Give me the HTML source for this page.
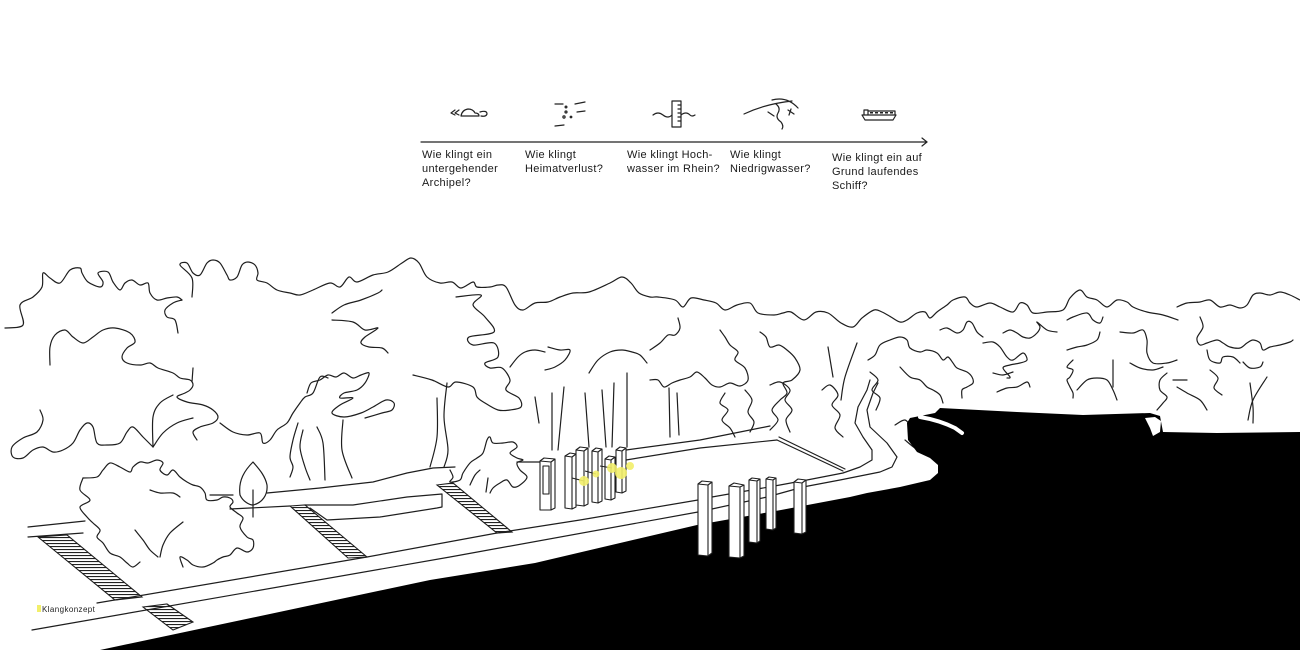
<!DOCTYPE html>
<html><head><meta charset="utf-8">
<style>
html,body{margin:0;padding:0;background:#fff;width:1300px;height:650px;overflow:hidden}
svg{display:block}
.t{font-family:"Liberation Sans",sans-serif;font-size:11px;fill:#1a1a1a;letter-spacing:0.35px}
.k{font-family:"Liberation Sans",sans-serif;font-size:8px;fill:#222;letter-spacing:0.4px}
</style></head>
<body>
<svg width="1300" height="650" viewBox="0 0 1300 650" xmlns="http://www.w3.org/2000/svg">
<defs>
<pattern id="hp" width="8" height="3" patternUnits="userSpaceOnUse"><rect width="8" height="1.1" fill="#222"/></pattern>
</defs>

<!-- timeline -->
<g fill="none" stroke="#222" stroke-width="1.2" stroke-linecap="round" stroke-linejoin="round">
<line x1="421" y1="142" x2="927" y2="142"/>
<path d="M922,138 L927,142 L922,146"/>
<path d="M455,110 L451,113 L455,115 M459,110 L455,113 L459,115"/>
<path d="M461,116 Q462,110 468,109 Q473,109 475,113 Q479,113 479,116 Z"/>
<path d="M480,112 Q487,110 487,114 Q486,117 481,116"/>
<path d="M555,104 L563,104 M575,104 L585,102 M577,112 L585,111 M555,126 L564,125"/>
<circle cx="566" cy="107" r="0.9"/><circle cx="566" cy="112" r="1"/><circle cx="564" cy="117" r="1.1"/><circle cx="571" cy="117" r="0.8"/>
<rect x="672" y="101" width="9" height="26"/>
<path d="M678,105 H681 M678,109 H681 M678,113 H681 M678,117 H681 M678,121 H681"/>
<path d="M653,115 Q658,111 663,115 Q668,119 672,115 M681,115 Q686,111 690,115 Q692,117 695,115"/>
<path d="M744,114 Q765,104 792,101 M772,100 Q787,96 798,108 M776,104 Q781,108 778,113 Q775,118 781,122 Q784,126 782,129 M768,112 L774,116 M788,110 L794,114 M791,109 L789,115"/>
<path d="M862,115 L896,115 L893,120 L865,120 Z M864,115 L864,110 L868,110 L868,115 M868,111 L895,111 L895,115"/>
</g>
<g fill="#222">
<rect x="870" y="112" width="3" height="1.5"/><rect x="875" y="112" width="3" height="1.5"/><rect x="880" y="112" width="3" height="1.5"/><rect x="885" y="112" width="3" height="1.5"/><rect x="890" y="112" width="3" height="1.5"/>
</g>
<text class="t"><tspan x="422" y="158">Wie klingt ein</tspan><tspan x="422" y="172">untergehender</tspan><tspan x="422" y="186">Archipel?</tspan></text>
<text class="t"><tspan x="525" y="158">Wie klingt</tspan><tspan x="525" y="172">Heimatverlust?</tspan></text>
<text class="t"><tspan x="627" y="158">Wie klingt Hoch-</tspan><tspan x="627" y="172">wasser im Rhein?</tspan></text>
<text class="t"><tspan x="730" y="158">Wie klingt</tspan><tspan x="730" y="172">Niedrigwasser?</tspan></text>
<text class="t"><tspan x="832" y="161">Wie klingt ein auf</tspan><tspan x="832" y="175">Grund laufendes</tspan><tspan x="832" y="189">Schiff?</tspan></text>

<!-- trees (smoothed) -->
<g class="s" fill="none" stroke="#1e1e1e" stroke-width="1.2" stroke-linejoin="round" stroke-linecap="round">
<polyline points="5,328 23,325 20,305 33,297 42,287 43,273 50,278 60,283 70,270 80,268 82,273 88,282 100,287 103,282 98,273 108,272 113,282 120,290 125,283 132,280 140,285 148,283 150,293 157,300 167,298 177,297 182,300"/>
<polyline points="182,300 173,303 165,310 167,317 175,320 178,333"/>
<polyline points="192,297 192,278 180,265 187,263 193,273 200,275 207,263 213,260 220,263 227,275 230,280 237,277 242,265 248,262 255,265 258,273 257,280 267,283 277,290 290,293 300,295 313,290 330,283 340,287 349,277 357,282 373,275 388,272 402,263 411,258 419,263 427,277 440,283 452,282 461,288 473,282 477,287 490,287 498,285 506,287 515,305 523,310 535,303 548,302 560,297 573,293 589,292 610,283 622,277 631,283 639,293 650,297 658,297 675,300 683,307 691,298 704,300 716,303 725,310 737,305 750,303 758,313 774,315 783,313 791,312 804,320 816,312 828,313 841,323 853,327 862,318 874,310 882,312 891,317 900,322 907,320 917,313 925,312 930,318 937,312 947,305 953,300 965,297 970,303 977,307 990,303 1000,307 1013,312 1020,303 1027,305 1033,313 1047,312 1063,310 1070,298 1080,290 1087,297 1097,300 1107,307 1117,300 1127,302 1133,307 1147,312 1163,315 1178,320"/>
<polyline points="1177,307 1187,303 1200,302 1210,300 1220,307 1230,305 1240,308 1247,305 1253,295 1260,293 1270,295 1280,292 1290,295 1300,300"/>
<polyline points="50,365 50,347 55,335 65,330 73,337 83,343 93,337 103,330 115,328 130,333 135,342 127,348 122,357 127,363 140,365 150,363 158,368 173,373 180,378 190,380 193,385 190,390 185,393 177,397 187,402 203,405 213,410 218,417 213,423 200,427 193,432 197,440"/>
<polyline points="193,368 192,382"/>
<polyline points="173,395 160,403 153,417 153,447"/>
<polyline points="193,418 177,423 163,433 153,447"/>
<polyline points="40,410 43,420 37,432 23,438 12,447 13,457 23,458 33,450 43,447 53,452 63,450 73,443 80,430 87,423 93,427 97,443 107,445 120,443 127,432 133,427 143,437 153,447"/>
<polyline points="220,423 233,432 247,435 260,433 263,443 270,440 277,430 287,423 293,413 300,403 305,397 313,393 320,377 328,378"/>
<polyline points="307,393 311,383 320,380 328,375 336,377 344,373 353,378 361,375 369,373 365,383 357,390 344,393 340,398 353,398 340,405 332,413 344,417 361,413 373,407 386,400 394,403 392,410 382,413 365,418"/>
<polyline points="298,423 293,440 290,457 293,467 290,477"/>
<polyline points="303,430 300,447 305,467 310,480"/>
<polyline points="317,427 323,443 325,480"/>
<polyline points="343,420 342,450 352,478"/>
<polyline points="332,313 344,305 361,300 378,293 382,290"/>
<polyline points="332,320 353,322 365,330 378,328 365,337 361,343 369,347 382,348 388,353"/>
<polyline points="413,375 432,380 448,387 456,382 473,387 477,397 485,403 498,410 510,410 521,407 519,398 506,390 510,380 502,368 490,368 485,363 498,357 494,343 473,345 469,337 494,332 485,317 473,305 481,295 456,297"/>
<polyline points="437,398 437,437 430,467"/>
<polyline points="447,383 444,417 448,450 444,467"/>
<polyline points="510,367 518,357 525,352 535,350 545,352"/>
<polyline points="548,347 560,350 570,350 565,360 555,367 545,370"/>
<polyline points="589,373 598,360 610,352 622,350 632,352 640,355 647,363"/>
<polyline points="535,397 539,423"/><polyline points="552,393 552,450"/><polyline points="564,387 558,450"/>
<polyline points="585,393 589,447"/><polyline points="602,390 606,447"/><polyline points="614,383 612,447"/><polyline points="627,373 627,447"/>
<polyline points="650,350 660,343 668,335 675,335 680,328 678,318"/>
<polyline points="650,380 658,380 664,387 672,383 680,380 690,377 697,372 705,378 712,385 720,387 730,383 740,386 748,380 745,368 735,360 738,352 730,345 725,337 720,330"/>
<polyline points="669,388 670,437"/><polyline points="677,393 679,435"/>
<polyline points="725,393 720,403 728,410 722,420 730,428 735,437"/>
<polyline points="745,390 752,400 748,412 754,422 750,432"/>
<polyline points="760,332 766,337 770,347 779,345 787,350 795,358 800,370 792,380 783,383 787,393 780,400 772,410 778,420 770,430"/>
<polyline points="770,385 780,382 790,390 785,400 792,410 786,420 790,432"/>
<polyline points="822,390 830,385 838,395 832,405 840,415 835,428 843,437"/>
<polyline points="828,347 833,377"/><polyline points="857,343 845,377 841,400"/>
<polyline points="868,360 875,355 880,345 890,340 900,337 907,340 910,348 920,352 927,350 937,353 943,360 948,357 953,363 957,368 967,372 972,377 973,383 967,387 962,390 962,398"/>
<polyline points="870,372 878,380 872,390 880,398 876,410"/>
<polyline points="900,367 910,377 920,380 927,387 933,390 940,395 943,403"/>
<polyline points="940,330 947,328 957,333 963,330 967,322 972,323 977,332 983,337"/>
<polyline points="983,343 993,342 1000,347 1007,357 1013,360 1023,353 1027,360 1020,363 1010,365 1003,368 1010,377 1007,378"/>
<polyline points="993,373 1003,375 1013,372"/>
<polyline points="997,392 1007,388 1017,387 1027,382 1030,387"/>
<polyline points="1003,333 1010,330 1017,333 1023,337 1030,338 1037,333 1040,327 1037,322 1047,330 1057,332"/>
<polyline points="1067,320 1073,317 1087,313 1093,320 1100,323 1103,317"/>
<polyline points="1067,350 1077,347 1087,345 1097,340 1100,332"/>
<polyline points="1073,360 1067,367 1073,370 1070,377 1067,380 1070,387 1073,393 1073,398"/>
<polyline points="1077,390 1087,380 1097,378 1107,380 1113,390 1117,400"/>
<polyline points="1113,360 1113,387"/>
<polyline points="1120,332 1133,333 1143,330 1147,340 1147,353 1153,363 1167,363 1177,360"/>
<polyline points="1130,363 1140,368 1153,370 1163,367"/>
<polyline points="1167,373 1160,380 1160,390 1167,397 1163,403 1157,410"/>
<polyline points="1173,380 1187,380"/>
<polyline points="1177,387 1187,393 1200,400 1207,410"/>
<polyline points="1200,317 1203,327 1197,338 1200,345 1207,343 1217,340 1223,343 1230,347 1240,348 1247,343 1253,340 1260,343 1263,350 1270,347 1280,345 1290,342 1293,340"/>
<polyline points="1207,350 1210,360 1220,363 1223,357 1233,357 1240,363"/>
<polyline points="1243,362 1250,368 1260,367 1263,362"/>
<polyline points="1267,377 1253,400 1248,420"/>
<polyline points="1250,383 1253,407 1253,423"/>
<polyline points="1210,370 1218,378 1214,388 1222,395"/>
<polyline points="905,440 915,448 925,452 935,458"/>
<polyline points="895,425 905,420 912,428"/>
<polyline points="83,478 97,477 103,470 110,463 120,467 130,472 133,467 140,462 148,463 157,460 163,463 160,470 167,475 173,470 180,477 187,482 193,485 200,487 205,493 207,500 217,500 223,497 230,498 233,502 230,507 237,513 243,518 240,527 247,537 253,540 253,548 247,552 237,548 230,555 223,557 217,560 213,563 203,567 193,565 187,560 180,557 183,567"/>
<polyline points="83,478 80,490 90,500 80,507 87,517 93,523 100,530 97,537 103,543 110,553 120,557 127,563 133,567 140,562"/>
<polyline points="150,490 160,493 173,493 180,497"/>
<polyline points="135,530 143,540 150,550 158,557"/>
<polyline points="160,557 163,545 170,533 183,522"/>
<polyline points="450,470 453,477 450,482 460,480 463,473 470,463 477,458 483,453 487,440 490,437 493,443 503,443 513,442 517,447 510,453 517,458 523,460 517,463 520,470 527,477 520,485 513,487 507,480 500,483 493,488 490,493"/>
<polyline points="470,485 475,475 480,470"/>
<polyline points="486,492 488,478"/>
</g>

<!-- straight lines -->
<g fill="none" stroke="#1e1e1e" stroke-width="1.2" stroke-linejoin="round" stroke-linecap="round">
<path d="M253,462 C245,470 238,480 240,495 C243,502 250,505 253,505 C262,503 268,495 267,485 C265,475 258,468 253,462 Z"/>
<line x1="253" y1="490" x2="253" y2="517"/>
<polyline points="28,527 85,521"/>
<polyline points="210,495 233,495"/>
<polyline points="267,493 320,488 373,482 407,473 433,468 455,467"/>
<polyline points="28,537 83,533"/>
<polyline points="230,509 290,506"/>
<polyline points="305,505 353,505 407,497 442,494 442,507 437,508 380,517 327,520 310,508"/>
<polyline points="517,462 540,462"/>
<polyline points="626,450 700,440 740,432 770,426"/>
<polyline points="626,460 700,448 777,440"/>
<polyline points="97,603 367,557 497,533 580,520 698,500"/>
<polyline points="712,497 780,485 807,480 843,473 860,467 872,460 872,450 863,437 855,423 858,407 867,390 870,380"/>
<polyline points="32,630 450,557 698,512"/>
<polyline points="712,509 767,497 803,487 840,480 880,472 892,467 897,457 887,443 870,427 867,410 873,393 878,383"/>
<polyline points="777,440 843,471"/><polyline points="779,437 845,469"/>
</g>

<g fill="url(#hp)" stroke="#1e1e1e" stroke-width="1.1">
<polygon points="38,537 67,535 142,597 115,600"/>
<polygon points="143,607 167,604 193,622 173,630"/>
<polygon points="290,506 305,505 367,557 348,558"/>
<polygon points="437,485 453,483 512,532 497,533"/>
</g>

<path fill="#000" d="M100,650 L430,580 L535,563 L697,525 L781,510 L850,497 L867,493 L900,487 L930,480 L938,473 L938,465 L930,458 L917,452 L908,440 L907,423 L910,418 L935,413 L940,408 L1017,412 L1083,415 L1150,413 L1160,416 L1163,432 L1217,433 L1300,432 L1300,650 Z"/>
<path d="M920,417 C932,419 945,423 955,428 L962,433" fill="none" stroke="#fff" stroke-width="4" stroke-linecap="round"/>
<path d="M1145,418 L1155,417 L1161,421 L1160,432 L1153,436 L1150,428 Z" fill="#fff"/>

<g fill="#fff" stroke="#1e1e1e" stroke-width="1.1" stroke-linejoin="round">
<polygon points="540,461 544,458 555,459 555,508 551,510 540,510"/>
<path fill="none" d="M540,461 L551,462 L555,459 M551,462 V510"/>
<rect x="543" y="466" width="6" height="28" fill="none"/>
<polygon points="565,456 570,453 576,454 576,507 572,509 565,508"/>
<path fill="none" d="M565,456 L572,457 L576,454 M572,457 V509"/>
<polygon points="576,450 580,447 588,448 588,504 584,506 576,505"/>
<path fill="none" d="M576,450 L584,451 L588,448 M584,451 V506"/>
<polygon points="592,451 596,448 602,449 602,501 598,503 592,502"/>
<path fill="none" d="M592,451 L598,452 L602,449 M598,452 V503"/>
<polygon points="605,459 609,456 615,457 615,498 611,500 605,499"/>
<path fill="none" d="M605,459 L611,460 L615,457 M611,460 V500"/>
<polygon points="616,450 620,447 626,448 626,491 622,493 616,492"/>
<path fill="none" d="M616,450 L622,451 L626,448 M622,451 V493"/>
<polygon points="698,484 702,481 712,482 712,553 708,556 698,555"/>
<path fill="none" d="M698,484 L708,485 L712,482 M708,485 V556"/>
<polygon points="729,486 734,483 744,485 744,556 740,558 729,557"/>
<path fill="none" d="M729,486 L740,487 L744,485 M740,487 V558"/>
<polygon points="749,480 752,478 760,479 760,541 757,543 749,542"/>
<path fill="none" d="M749,480 L757,481 L760,479 M757,481 V543"/>
<polygon points="766,479 769,477 776,478 776,528 773,530 766,529"/>
<path fill="none" d="M766,479 L773,480 L776,478 M773,480 V530"/>
<polygon points="794,482 798,479 806,480 806,532 802,534 794,533"/>
<path fill="none" d="M794,482 L802,483 L806,480 M802,483 V534"/>
</g>
<g stroke="#222" stroke-width="1.1">
<line x1="572" y1="478" x2="584" y2="481"/><line x1="585" y1="471" x2="596" y2="474"/><line x1="600" y1="466" x2="612" y2="468"/>
</g>
<g fill="#f2ef6a" opacity="0.9">
<circle cx="584" cy="481" r="5"/><circle cx="596" cy="474" r="3.5"/><circle cx="612" cy="468" r="5"/><circle cx="621" cy="473" r="6"/><circle cx="630" cy="466" r="4"/>
</g>

<rect x="37" y="605" width="4" height="7" fill="#f2ef6a"/>
<text class="k" x="42" y="612">Klangkonzept</text>
</svg>
<script>
(function(){
var NS='http://www.w3.org/2000/svg';
var list=document.querySelectorAll('g.s polyline');
for(var k=0;k<list.length;k++){
 var pl=list[k];
 var pts=pl.getAttribute('points').trim().split(/\s+/).map(function(p){return p.split(',').map(Number);});
 if(pts.length<3)continue;
 var d='M'+pts[0][0]+','+pts[0][1];
 for(var i=0;i<pts.length-1;i++){
  var p0=pts[i-1]||pts[i],p1=pts[i],p2=pts[i+1],p3=pts[i+2]||p2;
  var c1x=p1[0]+(p2[0]-p0[0])/6,c1y=p1[1]+(p2[1]-p0[1])/6;
  var c2x=p2[0]-(p3[0]-p1[0])/6,c2y=p2[1]-(p3[1]-p1[1])/6;
  d+='C'+c1x.toFixed(1)+','+c1y.toFixed(1)+' '+c2x.toFixed(1)+','+c2y.toFixed(1)+' '+p2[0]+','+p2[1];
 }
 var path=document.createElementNS(NS,'path');
 path.setAttribute('d',d);
 pl.parentNode.replaceChild(path,pl);
}
})();
</script>
</body></html>
